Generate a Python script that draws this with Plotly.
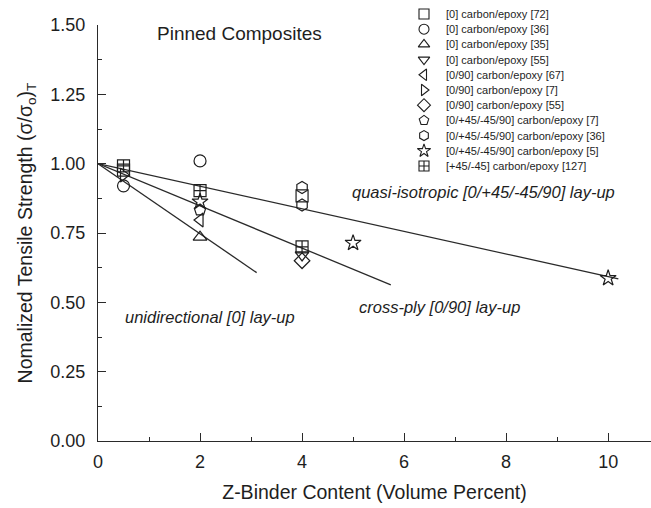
import plotly.graph_objects as go

# ---------------- data ----------------
legend_labels = [
    "[0] carbon/epoxy [72]",
    "[0] carbon/epoxy [36]",
    "[0] carbon/epoxy [35]",
    "[0] carbon/epoxy [55]",
    "[0/90] carbon/epoxy [67]",
    "[0/90] carbon/epoxy [7]",
    "[0/90] carbon/epoxy [55]",
    "[0/+45/-45/90] carbon/epoxy [7]",
    "[0/+45/-45/90] carbon/epoxy [36]",
    "[0/+45/-45/90] carbon/epoxy [5]",
    "[+45/-45] carbon/epoxy [127]",
]
symbols = [
    "square-open", "circle-open", "triangle-up-open", "triangle-down-open",
    "triangle-left-open", "triangle-right-open", "diamond-open",
    "pentagon-open", "hexagon-open", "star-open", "square-cross-open",
]
x_values = [
    [0.5, 4], [0.5, 2], [2], [4], [2], [0.5], [4], [2], [4, 4], [2, 5, 10], [0.5, 2, 4],
]
y_values = [
    [0.977, 0.884], [0.92, 1.01], [0.735], [0.671], [0.797], [0.959], [0.65],
    [0.833], [0.914, 0.851], [0.863, 0.714, 0.587], [0.992, 0.903, 0.70],
]

uni_x = [0, 3.11]
uni_y = [1.0, 0.607]
cross_x = [0, 5.74]
cross_y = [1.0, 0.563]
quasi_x = [0, 10.2]
quasi_y = [1.0, 0.585]

x_ticks = [0, 2, 4, 6, 8, 10]
y_ticks = [0.0, 0.25, 0.5, 0.75, 1.0, 1.25, 1.5]
y_tick_text = ["0.00", "0.25", "0.50", "0.75", "1.00", "1.25", "1.50"]

# ---------------- style ----------------
W, H = 651, 508
ML, MR, MT, MB = 98, 0, 0, 67
PLOT_TOP = 25          # pixel row of y = 1.50
PLOT_H = H - MT - MB   # full plotting strip height (0..441)
FONT = "Liberation Sans, Arial, sans-serif"
INK = "#1e1e1e"
LINE = "#2a2a2a"

fig = go.Figure()

for lx, ly in [(uni_x, uni_y), (cross_x, cross_y), (quasi_x, quasi_y)]:
    fig.add_trace(go.Scatter(x=lx, y=ly, mode="lines",
                             line=dict(color=LINE, width=1.3),
                             showlegend=False, hoverinfo="skip"))

for lab, sym, xs, ys in zip(legend_labels, symbols, x_values, y_values):
    fig.add_trace(go.Scatter(
        x=xs, y=ys, mode="markers", name=lab, showlegend=False,
        marker=dict(symbol=sym, size=12, color=INK, line=dict(color=INK, width=1.2)),
    ))

# custom legend on a pixel-coordinate helper axis covering the whole strip
leg_x0 = 424
leg_y0 = 14
leg_dy = 15.2
leg_xs = [leg_x0] * len(legend_labels)
leg_ys = [leg_y0 + i * leg_dy for i in range(len(legend_labels))]
fig.add_trace(go.Scatter(
    x=leg_xs, y=leg_ys, mode="markers", xaxis="x2", yaxis="y2",
    showlegend=False, hoverinfo="skip", cliponaxis=False,
    marker=dict(symbol=symbols, size=10, color=INK, line=dict(color=INK, width=1.1)),
))
annotations = []
for lab, yy in zip(legend_labels, leg_ys):
    annotations.append(dict(
        x=leg_x0 + 20, y=yy, xref="x2", yref="y2", text=lab, showarrow=False,
        xanchor="left", yanchor="middle",
        font=dict(family=FONT, size=11, color=INK),
    ))

# chart text
annotations += [
    dict(x=1.12, y=1.471, xref="x", yref="y", text="Pinned Composites", showarrow=False,
         xanchor="left", yanchor="middle", font=dict(family=FONT, size=19, color=INK)),
    dict(x=4.94, y=0.898, xref="x", yref="y", text="<i>quasi-isotropic [0/+45/-45/90] lay-up</i>",
         showarrow=False, xanchor="left", yanchor="middle", font=dict(family=FONT, size=16.5, color=INK)),
    dict(x=5.07, y=0.484, xref="x", yref="y", text="<i>cross-ply [0/90] lay-up</i>",
         showarrow=False, xanchor="left", yanchor="middle", font=dict(family=FONT, size=16.5, color=INK)),
    dict(x=0.49, y=0.447, xref="x", yref="y", text="<i>unidirectional [0] lay-up</i>",
         showarrow=False, xanchor="left", yanchor="middle", font=dict(family=FONT, size=16.5, color=INK)),
]

fig.update_layout(
    width=W, height=H, margin=dict(l=ML, r=MR, t=MT, b=MB, autoexpand=False),
    paper_bgcolor="white", plot_bgcolor="rgba(0,0,0,0)",
    font=dict(family=FONT, size=18, color=INK),
    showlegend=False,
    annotations=annotations,
    xaxis=dict(
        domain=[0, 1], anchor="y",
        range=[0, 10.84], tickvals=x_ticks, ticks="inside", ticklen=8, tickwidth=1.2,
        tickcolor=LINE, showline=True, linecolor=LINE, linewidth=1.3,
        showgrid=False, zeroline=False,
        minor=dict(dtick=1, ticks="inside", ticklen=4, tickwidth=1.2, tickcolor=LINE, showgrid=False),
        tickfont=dict(family=FONT, size=18, color=INK), ticklabelstandoff=4,
        title=dict(text="Z-Binder Content (Volume Percent)", standoff=14,
                   font=dict(family=FONT, size=19.5, color=INK)),
    ),
    yaxis=dict(
        domain=[0, (PLOT_H - PLOT_TOP) / PLOT_H], anchor="x",
        range=[0, 1.5], tickvals=y_ticks, ticktext=y_tick_text, ticks="inside", ticklen=8,
        tickwidth=1.2, tickcolor=LINE, showline=True, linecolor=LINE, linewidth=1.3,
        showgrid=False, zeroline=False,
        minor=dict(dtick=0.125, ticks="inside", ticklen=4, tickwidth=1.2, tickcolor=LINE, showgrid=False),
        tickfont=dict(family=FONT, size=18, color=INK), ticklabelstandoff=8,
        title=dict(text="Nomalized Tensile Strength (σ/σ<sub>o</sub>)<sub>T</sub>", standoff=12,
                   font=dict(family=FONT, size=19.5, color=INK)),
    ),
    xaxis2=dict(domain=[0, 1], anchor="y2", range=[ML, W - MR], visible=False, fixedrange=True),
    yaxis2=dict(domain=[0, 1], anchor="x2", range=[PLOT_H, 0], visible=False, fixedrange=True),
)

fig.write_html("out.html")
